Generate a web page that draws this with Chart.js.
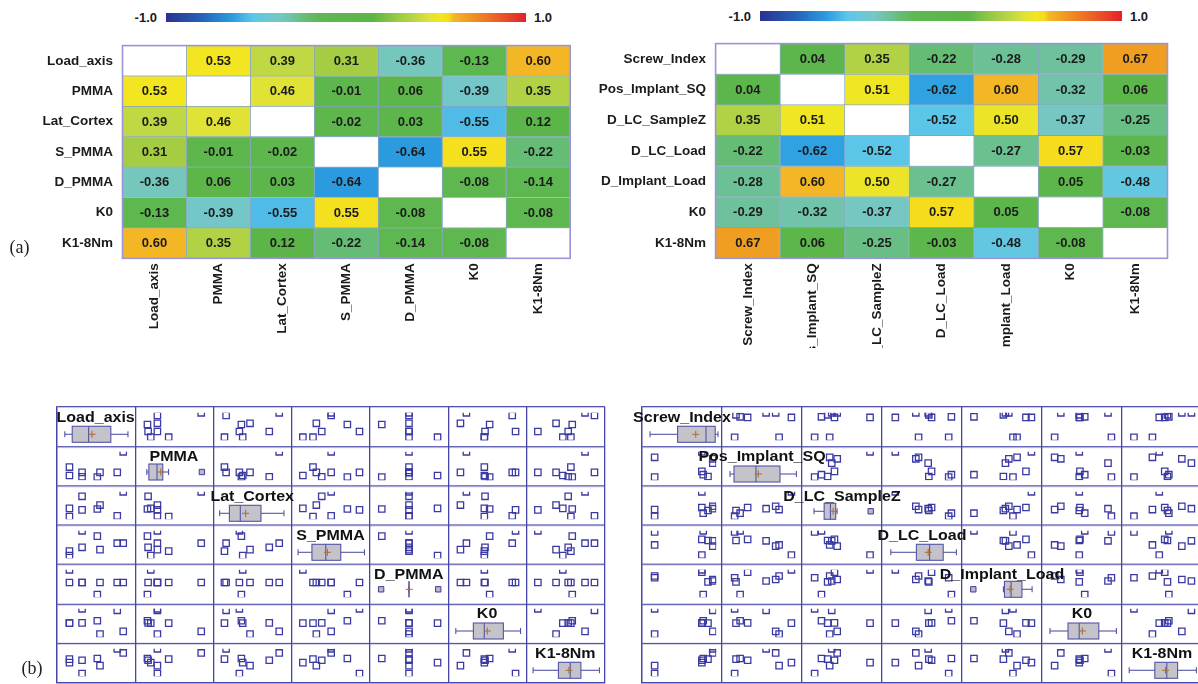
<!DOCTYPE html>
<html>
<head>
<meta charset="utf-8">
<script src="https://cdn.jsdelivr.net/npm/chart.js@4.4.1/dist/chart.umd.min.js"></script>
<style>
  html, body { margin: 0; padding: 0; background: #fff; }
  body { width: 1198px; height: 684px; overflow: hidden; position: relative; }
  canvas { position: absolute; }
  .txt { position: absolute; white-space: nowrap; color: #1b1b1b; }
  .cb { font: bold 13px "Liberation Sans", Arial, sans-serif; line-height: 13px; }
  .tag { font: 18px "Liberation Serif", "Times New Roman", serif; line-height: 18px; color: #222; }
  .diag { font: bold 16px "Liberation Sans", Arial, sans-serif; line-height: 16px; color: #111;
          transform: translate(-50%, -50%) scaleY(0.86); }
</style>
</head>
<body>
<script>
// ---------- correlation heatmaps ----------
const leftVars  = ['Load_axis', 'PMMA', 'Lat_Cortex', 'S_PMMA', 'D_PMMA', 'K0', 'K1-8Nm'];
const rightVars = ['Screw_Index', 'Pos_Implant_SQ', 'D_LC_SampleZ', 'D_LC_Load', 'D_Implant_Load', 'K0', 'K1-8Nm'];

const leftCorr = [
  [null,  0.53,  0.39,  0.31, -0.36, -0.13,  0.60],
  [0.53,  null,  0.46, -0.01,  0.06, -0.39,  0.35],
  [0.39,  0.46,  null, -0.02,  0.03, -0.55,  0.12],
  [0.31, -0.01, -0.02,  null, -0.64,  0.55, -0.22],
  [-0.36, 0.06,  0.03, -0.64,  null, -0.08, -0.14],
  [-0.13,-0.39, -0.55,  0.55, -0.08,  null, -0.08],
  [0.60,  0.35,  0.12, -0.22, -0.14, -0.08,  null]
];
const rightCorr = [
  [null,  0.04,  0.35, -0.22, -0.28, -0.29,  0.67],
  [0.04,  null,  0.51, -0.62,  0.60, -0.32,  0.06],
  [0.35,  0.51,  null, -0.52,  0.50, -0.37, -0.25],
  [-0.22,-0.62, -0.52,  null, -0.27,  0.57, -0.03],
  [-0.28, 0.60,  0.50, -0.27,  null,  0.05, -0.48],
  [-0.29,-0.32, -0.37,  0.57,  0.05,  null, -0.08],
  [0.67,  0.06, -0.25, -0.03, -0.48, -0.08,  null]
];

// colour scale from r = -1 to r = +1
const colorStops = [
  [-1.00, '#2b3192'], [-0.80, '#2563b8'], [-0.63, '#2c9de0'], [-0.52, '#5cc6e8'],
  [-0.45, '#68c8dc'], [-0.37, '#76c7c2'], [-0.30, '#6fc2a2'], [-0.24, '#67bd7e'],
  [-0.15, '#5eb851'], [ 0.15, '#5cb547'], [ 0.30, '#a2cc44'], [ 0.38, '#bad646'],
  [ 0.46, '#e0e236'], [ 0.52, '#f2e720'], [ 0.57, '#f5dc1c'], [ 0.60, '#f3b725'],
  [ 0.67, '#f09e22'], [ 0.80, '#ee6f25'], [ 1.00, '#e5202a']
];
const colorbarTicks = ['-1.0', '1.0'];

// ---------- specimen measurements (scaled units, one entry per specimen) ----------
const loadAxis     = [0.10, 0.10, 0.29, 0.29, 0.52, 0.56, 0.82, 0.91];
const pmma         = [0.42, 0.15, 0.25, 0.11, 0.10, 0.25, 0.25, 0.91];
const latCortex    = [0.085, 0.36, 0.31, 0.76, 0.34, 0.47, 0.11, 0.91];
const sPmma        = [0.24, 0.09, 0.93, 0.37, 0.75, 0.29, 0.51, 0.51];
const dPmma        = [0.50, 0.93, 0.50, 0.50, 0.09, 0.50, 0.50, 0.50];
const k0           = [0.46, 0.46, 0.93, 0.47, 0.54, 0.10, 0.88, 0.19];
const k18          = [0.58, 0.46, 0.09, 0.54, 0.60, 0.36, 0.93, 0.79];
const screwIndex   = [0.88, 0.79, 0.10, 0.79, 0.81, 0.10, 0.95, 0.95];
const posImplantSQ = [0.12, 0.93, 0.10, 0.29, 0.18, 0.75, 0.56, 0.70];
const dLcSampleZ   = [0.29, 0.91, 0.10, 0.39, 0.20, 0.32, 0.35, 0.43];
const dLcLoad      = [0.60, 0.11, 0.89, 0.64, 0.93, 0.45, 0.59, 0.41];
const dImplantLoad = [0.52, 0.93, 0.66, 0.85, 0.09, 0.72, 0.55, 0.60];

const leftSeries  = [loadAxis, pmma, latCortex, sPmma, dPmma, k0, k18];
const rightSeries = [screwIndex, posImplantSQ, dLcSampleZ, dLcLoad, dImplantLoad, k0, k18];

// ---------- styling ----------
Chart.defaults.font.family = '"Liberation Sans", Arial, sans-serif';
Chart.defaults.animation = false;
const INK = '#1b1b1b';
const CELL_EDGE = 'rgba(25,85,140,0.40)';
const HEAT_FRAME = '#9c94d8';
const GRID = '#4646a8';
const MARK = '#3a3aa2';
const BOX_FILL = '#c3c3c9';
const BOX_EDGE = '#5454a6';
const MEAN_MARK = '#b0703a';
const BOX_LEVEL = 0.30;   // vertical position of the box within a diagonal panel (fraction from bottom)

function makeCanvas(left, top, w, h) {
  const c = document.createElement('canvas');
  c.width = w; c.height = h;
  c.style.left = left + 'px'; c.style.top = top + 'px';
  c.style.width = w + 'px'; c.style.height = h + 'px';
  document.body.appendChild(c);
  return c;
}
function addText(cls, text, left, top, transform) {
  const d = document.createElement('div');
  d.className = 'txt ' + cls;
  d.textContent = text;
  d.style.left = left + 'px'; d.style.top = top + 'px';
  if (transform) d.style.transform = transform;
  document.body.appendChild(d);
  return d;
}
function hexRgb(h) { const n = parseInt(h.slice(1), 16); return [(n >> 16) & 255, (n >> 8) & 255, n & 255]; }
function cellColor(v) {
  if (v === null) return '#ffffff';
  if (v <= colorStops[0][0]) return colorStops[0][1];
  for (let k = 1; k < colorStops.length; k++) {
    const [v0, c0] = colorStops[k - 1], [v1, c1] = colorStops[k];
    if (v <= v1) {
      const t = (v - v0) / (v1 - v0), a = hexRgb(c0), b = hexRgb(c1);
      return 'rgb(' + a.map((x, i) => Math.round(x + (b[i] - x) * t)).join(',') + ')';
    }
  }
  return colorStops[colorStops.length - 1][1];
}

// ---------- heatmap (stacked horizontal bars, one stack per row) ----------
function makeHeatmap(names, corr, cv, area) {
  const canvas = makeCanvas(cv.left, cv.top, cv.width, cv.height);
  const yWidth = area.left - cv.left;
  const xHeight = cv.top + cv.height - area.bottom;
  const datasets = names.map((name, j) => ({
    label: name,
    data: names.map(() => 1),
    backgroundColor: ctx => cellColor(corr[ctx.dataIndex][j]),
    borderColor: CELL_EDGE,
    borderWidth: 0.75,
    borderSkipped: false,
    barPercentage: 1,
    categoryPercentage: 1
  }));
  const cellText = {
    id: 'cellText',
    afterDatasetsDraw(chart) {
      const ctx = chart.ctx;
      ctx.save();
      ctx.font = 'bold 13px "Liberation Sans", Arial, sans-serif';
      ctx.fillStyle = INK;
      ctx.textAlign = 'center';
      ctx.textBaseline = 'middle';
      chart.data.datasets.forEach((ds, j) => {
        chart.getDatasetMeta(j).data.forEach((bar, i) => {
          const v = corr[i][j];
          if (v === null) return;
          const p = bar.getProps(['x', 'y', 'base'], true);
          ctx.fillText(v.toFixed(2), (p.x + p.base) / 2, p.y + 0.5);
        });
      });
      const a = chart.chartArea;
      ctx.strokeStyle = HEAT_FRAME;
      ctx.lineWidth = 1.6;
      ctx.strokeRect(a.left, a.top, a.right - a.left, a.bottom - a.top);
      ctx.restore();
    }
  };
  return new Chart(canvas, {
    type: 'bar',
    data: { labels: names, datasets },
    options: {
      indexAxis: 'y',
      responsive: false,
      events: [],
      layout: { padding: { top: area.top - cv.top, right: cv.left + cv.width - area.right, left: 0, bottom: 0 } },
      plugins: { legend: { display: false }, tooltip: { enabled: false } },
      scales: {
        x: { stacked: true, min: 0, max: names.length, display: false },
        cols: {
          type: 'category', axis: 'x', position: 'bottom', labels: names, offset: true,
          grid: { display: false, drawTicks: false }, border: { display: false },
          ticks: { autoSkip: false, minRotation: 90, maxRotation: 90, padding: 5, color: INK,
                   font: { weight: 'bold', size: 13.5 } },
          afterFit: s => { s.height = xHeight; }
        },
        y: {
          stacked: true,
          grid: { display: false, drawTicks: false }, border: { display: false },
          ticks: { autoSkip: false, padding: 9.5, color: INK, font: { weight: 'bold', size: 13.5 } },
          afterFit: s => { s.width = yWidth; }
        }
      }
    },
    plugins: [cellText]
  });
}

// ---------- colour bar ----------
function makeColorbar(rect, labelY, leftEnd, rightStart) {
  const canvas = makeCanvas(rect.left, rect.top, rect.width, rect.height);
  new Chart(canvas, {
    type: 'bar',
    data: {
      labels: [''],
      datasets: [{
        data: [[-1, 1]],
        backgroundColor: ctx => {
          const a = ctx.chart.chartArea;
          if (!a) return '#5cb547';
          const g = ctx.chart.ctx.createLinearGradient(a.left, 0, a.right, 0);
          colorStops.forEach(([v, c]) => g.addColorStop((v + 1) / 2, c));
          return g;
        },
        borderWidth: 0, barPercentage: 1, categoryPercentage: 1
      }]
    },
    options: {
      indexAxis: 'y', responsive: false, events: [], layout: { padding: 0 },
      plugins: { legend: { display: false }, tooltip: { enabled: false } },
      scales: { x: { display: false, min: -1, max: 1 }, y: { display: false } }
    }
  });
  addText('cb', colorbarTicks[0], leftEnd, labelY - 6.5, 'translateX(-100%)');
  addText('cb', colorbarTicks[1], rightStart, labelY - 6.5);
}

// ---------- scatter-plot matrix ----------
function quantile(sorted, p) {
  const np = sorted.length * p, j = Math.floor(np);
  return (np === j) ? (sorted[j - 1] + sorted[j]) / 2 : sorted[j];
}
function boxStats(values) {
  const s = values.slice().sort((a, b) => a - b);
  const q1 = quantile(s, 0.25), med = quantile(s, 0.5), q3 = quantile(s, 0.75);
  const iqr = q3 - q1, loF = q1 - 1.5 * iqr, hiF = q3 + 1.5 * iqr;
  const inside = s.filter(v => v >= loF - 1e-9 && v <= hiF + 1e-9);
  return {
    q1, med, q3,
    lo: inside[0], hi: inside[inside.length - 1],
    mean: s.reduce((a, b) => a + b, 0) / s.length,
    outliers: s.filter(v => v < loF - 1e-9 || v > hiF + 1e-9)
  };
}

const FRAME_PAD = 2;
function makeFrame(box) {
  const canvas = makeCanvas(box.left - FRAME_PAD, box.top - FRAME_PAD,
                            box.width + 2 * FRAME_PAD, box.height + 2 * FRAME_PAD);
  const axis = reverse => ({
    type: 'linear', min: 0, max: 7, reverse,
    ticks: { display: false, stepSize: 1 },
    grid: { color: GRID, lineWidth: 1.3, drawTicks: false },
    border: { display: true, color: GRID, width: 1.3 }
  });
  return new Chart(canvas, {
    type: 'scatter',
    data: { datasets: [] },
    options: {
      responsive: false, events: [], layout: { padding: FRAME_PAD },
      plugins: { legend: { display: false }, tooltip: { enabled: false } },
      scales: { x: axis(false), y: axis(true) }
    }
  });
}

function scatterPanel(canvas, xVals, yVals) {
  new Chart(canvas, {
    type: 'scatter',
    data: { datasets: [{
      data: xVals.map((v, k) => ({ x: v, y: yVals[k] })),
      pointStyle: 'rect', pointRadius: 4.5, borderWidth: 1.3,
      borderColor: MARK, backgroundColor: 'rgba(0,0,0,0)', clip: 0
    }] },
    options: {
      responsive: false, events: [], layout: { padding: 0 },
      plugins: { legend: { display: false }, tooltip: { enabled: false } },
      scales: {
        x: { type: 'linear', display: false, min: 0, max: 1 },
        y: { type: 'linear', display: false, min: 0, max: Math.max(...yVals) }
      }
    }
  });
}

function diagPanel(canvas, values) {
  const st = boxStats(values);
  const boxPlot = {
    id: 'boxPlot',
    beforeDatasetsDraw(chart) {
      const { ctx, scales: { x, y } } = chart;
      const px = v => x.getPixelForValue(v);
      const cy = y.getPixelForValue(BOX_LEVEL);
      const line = (x1, y1, x2, y2) => { ctx.beginPath(); ctx.moveTo(x1, y1); ctx.lineTo(x2, y2); ctx.stroke(); };
      ctx.save();
      ctx.lineWidth = 1.1;
      ctx.strokeStyle = BOX_EDGE;
      line(px(st.lo), cy, px(st.q1), cy);
      line(px(st.q3), cy, px(st.hi), cy);
      line(px(st.lo), cy - 3, px(st.lo), cy + 3);
      line(px(st.hi), cy - 3, px(st.hi), cy + 3);
      ctx.fillStyle = BOX_FILL;
      ctx.fillRect(px(st.q1), cy - 8, px(st.q3) - px(st.q1), 16);
      ctx.strokeRect(px(st.q1), cy - 8, px(st.q3) - px(st.q1), 16);
      line(px(st.med), cy - 8, px(st.med), cy + 8);
      ctx.strokeStyle = MEAN_MARK;
      line(px(st.mean) - 3.5, cy, px(st.mean) + 3.5, cy);
      line(px(st.mean), cy - 3.5, px(st.mean), cy + 3.5);
      ctx.restore();
    }
  };
  new Chart(canvas, {
    type: 'scatter',
    data: { datasets: [{
      data: st.outliers.map(v => ({ x: v, y: BOX_LEVEL })),
      pointStyle: 'rect', pointRadius: 3.8, borderWidth: 1,
      borderColor: MARK, backgroundColor: '#b9b9c6', clip: 0
    }] },
    options: {
      responsive: false, events: [], layout: { padding: 0 },
      plugins: { legend: { display: false }, tooltip: { enabled: false } },
      scales: {
        x: { type: 'linear', display: false, min: 0, max: 1 },
        y: { type: 'linear', display: false, min: 0, max: 1 }
      }
    },
    plugins: [boxPlot]
  });
}

function makeMatrix(box, names, series) {
  const frame = makeFrame(box);
  const xs = frame.scales.x, ys = frame.scales.y;
  // frame scale pixels are relative to the frame canvas; shift them to page coordinates
  const ox = box.left - FRAME_PAD, oy = box.top - FRAME_PAD;
  const colX = j => ox + xs.getPixelForValue(j);
  const rowY = i => oy + ys.getPixelForValue(i);
  const n = names.length;
  for (let i = 0; i < n; i++) {
    for (let j = 0; j < n; j++) {
      const l = Math.round(colX(j)), r = Math.round(colX(j + 1));
      const t = Math.round(rowY(i)), b = Math.round(rowY(i + 1));
      const canvas = makeCanvas(l, t, r - l, b - t);
      if (i === j) diagPanel(canvas, series[i]);
      else scatterPanel(canvas, series[j], series[i]);
    }
  }
  names.forEach((name, i) => {
    addText('diag', name, (colX(i) + colX(i + 1)) / 2, rowY(i) + 11);
  });
}

// ---------- (a) heatmaps ----------
makeColorbar({ left: 166, top: 13, width: 360, height: 9 }, 17.5, 157, 534);
makeColorbar({ left: 760, top: 11, width: 362, height: 10 }, 16, 751, 1130);

makeHeatmap(leftVars, leftCorr,
  { left: 0, top: 28, width: 582, height: 322 },
  { left: 122.5, top: 34, right: 570.2, bottom: 258.3 });
makeHeatmap(rightVars, rightCorr,
  { left: 590, top: 26, width: 590, height: 322 },
  { left: 715.6, top: 32.3, right: 1167.5, bottom: 258.3 });

addText('tag', '(a)', 9.5, 238);

// ---------- (b) scatter-plot matrices ----------
makeMatrix({ left: 56.5, top: 407, width: 548.5, height: 275.8 }, leftVars, leftSeries);
makeMatrix({ left: 642, top: 407, width: 560, height: 275.8 }, rightVars, rightSeries);

addText('tag', '(b)', 21.5, 659);
</script>
</body>
</html>
